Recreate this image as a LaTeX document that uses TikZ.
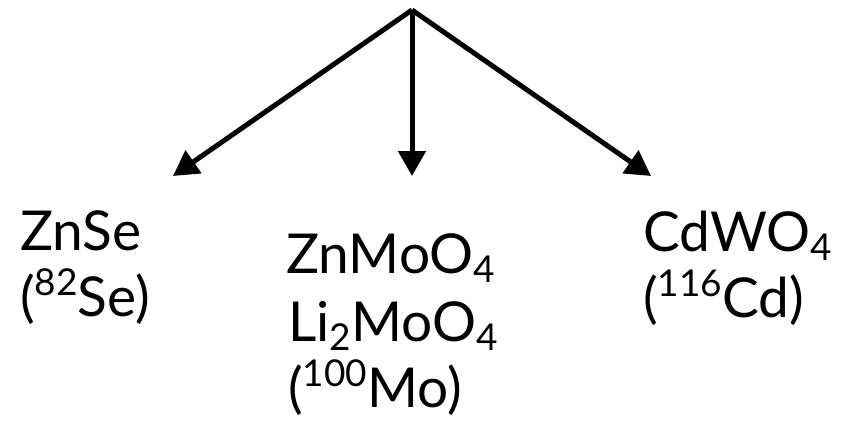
\documentclass[tikz,border=0pt]{standalone}
\usepackage{fontspec}
\setmainfont{Lato}
\usetikzlibrary{arrows.meta}
\newcommand{\chsub}[1]{\raisebox{-0.17em}{\fontsize{37}{37}\selectfont #1}}
\newcommand{\chsup}[1]{\raisebox{0.38em}{\fontsize{37}{37}\selectfont #1}}
\tikzset{
  lbl/.style={anchor=base west, inner sep=0pt, font=\fontsize{55}{60}\selectfont},
  arr/.style={line width=5pt, -{Triangle[length=25pt,width=27pt]}}
}
\begin{document}
\begin{tikzpicture}[x=1pt,y=-1pt]
\useasboundingbox (0,0) rectangle (849,423);
\coordinate (top) at (412,10);
\coordinate (tl) at (173,176);
\coordinate (tm) at (412,176);
\coordinate (tr) at (651,176);
\draw[arr] (top) -- (tl);
\draw[arr] (top) -- (tm);
\draw[arr] (top) -- (tr);
\node[lbl] (a1) at (20,250) {ZnSe};
\node[lbl] (a2) at (20,316) {(\chsup{82}Se)};
\node[lbl] (b1) at (286,273) {ZnMoO\chsub{4}};
\node[lbl] (b2) at (288,341) {Li\chsub{2}MoO\chsub{4}};
\node[lbl] (b3) at (288,407) {(\chsup{100}Mo)};
\node[lbl] (c1) at (643,251) {CdWO\chsub{4}};
\node[lbl] (c2) at (643,317) {(\chsup{116}Cd)};
\end{tikzpicture}
\end{document}
